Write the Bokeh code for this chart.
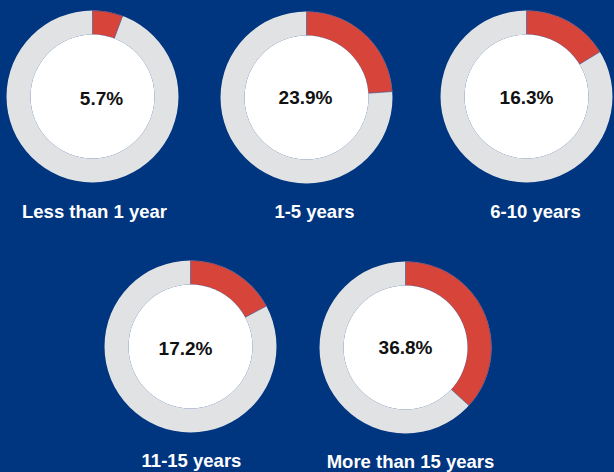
import math
from bokeh.plotting import figure
from bokeh.models import Range1d
from bokeh.core.properties import value
from bokeh.embed import file_html
from bokeh.resources import INLINE

# ---- data ----
categories = ["Less than 1 year", "1-5 years", "6-10 years", "11-15 years", "More than 15 years"]
shares = [5.7, 23.9, 16.3, 17.2, 36.8]
share_labels = ["5.7%", "23.9%", "16.3%", "17.2%", "36.8%"]

# ---- layout (reference pixel coordinates, y measured from top) ----
donut_x = [92, 306, 526, 190, 405]
donut_y = [96, 97, 96, 346, 347]
pct_x = [101, 305, 526, 185, 405]
pct_y = [98, 97, 97, 348, 347]
lab_x = [94, 314, 535, 191, 410]
lab_y = [211, 211, 211, 460, 461]

REF_W, REF_H = 614, 472
W, H = 614, 472
scale = W / REF_W
R_OUT = 86 * scale
R_IN = 62 * scale

BG = "#003580"
RED = "#d6443a"
GREY = "#e1e2e4"

def fy(v):
    return [REF_H - t for t in v]

p = figure(width=W, height=H, x_range=Range1d(0, REF_W), y_range=Range1d(0, REF_H),
           output_backend="svg", toolbar_location=None, min_border=0)
p.axis.visible = False
p.grid.visible = False
p.outline_line_color = None
p.background_fill_color = BG
p.border_fill_color = BG

# grey ring
p.annulus(x=donut_x, y=fy(donut_y), inner_radius=R_IN, outer_radius=R_OUT,
          inner_radius_units="screen", outer_radius_units="screen",
          fill_color=GREY, line_color=None)

# red share wedge, starting at 12 o'clock, clockwise
start = [math.pi / 2 - 2 * math.pi * s / 100 for s in shares]
end = [math.pi / 2] * len(shares)
p.annular_wedge(x=donut_x, y=fy(donut_y), inner_radius=R_IN, outer_radius=R_OUT,
                inner_radius_units="screen", outer_radius_units="screen",
                start_angle=start, end_angle=end, direction="anticlock",
                fill_color=RED, line_color="#3a4f8f", line_width=0.6)

# white hole
p.circle(x=donut_x, y=fy(donut_y), radius=R_IN, radius_units="screen",
         fill_color="white", line_color=None)

p.text(x=pct_x, y=fy(pct_y), text=share_labels, text_align="center", text_baseline="middle",
       text_font=value("Liberation Sans"), text_font_style="bold", text_font_size="19px",
       text_color="#111111")

p.text(x=lab_x, y=fy(lab_y), text=categories, text_align="center", text_baseline="middle",
       text_font=value("Liberation Sans"), text_font_style="bold", text_font_size="18.5px",
       text_color="white")

template = """{% block postamble %}<style>html, body { background-color: #003580; margin: 0; padding: 0; overflow: hidden; }</style>{% endblock %}"""
open("out.html", "w").write(file_html(p, INLINE, title="Tenure", template=template))
